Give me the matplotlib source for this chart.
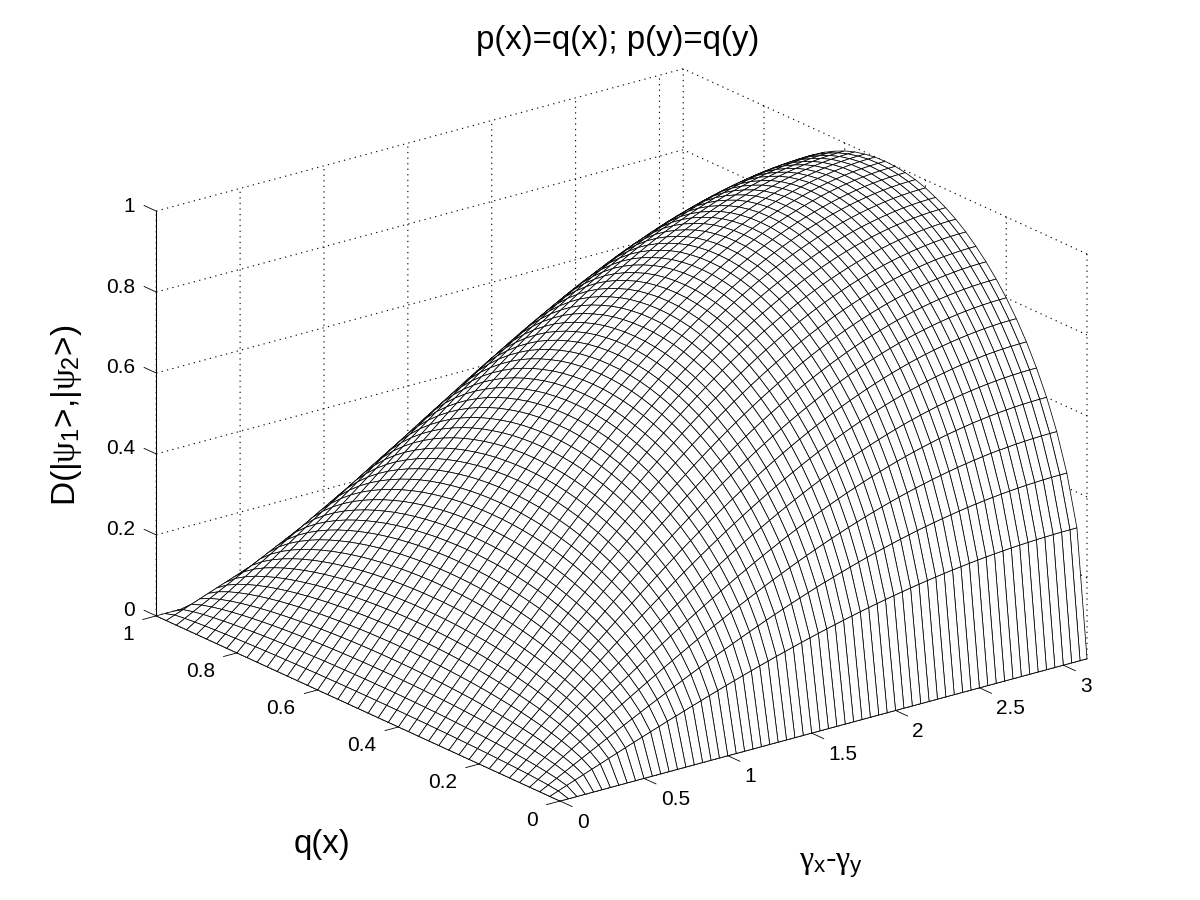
import numpy as np
import matplotlib
matplotlib.use("Agg")
import matplotlib.pyplot as plt
from mpl_toolkits.mplot3d import proj3d

gamma_values = [0.00, 0.05, 0.10, 0.15, 0.20, 0.25, 0.30, 0.35, 0.40, 0.45, 0.50, 0.55, 0.60, 0.65, 0.70, 0.75,
                0.80, 0.85, 0.90, 0.95, 1.00, 1.05, 1.10, 1.15, 1.20, 1.25, 1.30, 1.35, 1.40, 1.45, 1.50, 1.55,
                1.60, 1.65, 1.70, 1.75, 1.80, 1.85, 1.90, 1.95, 2.00, 2.05, 2.10, 2.15, 2.20, 2.25, 2.30, 2.35,
                2.40, 2.45, 2.50, 2.55, 2.60, 2.65, 2.70, 2.75, 2.80, 2.85, 2.90, 2.95, 3.00, 3.05, 3.10, 3.1416]
q_values = [0.000, 0.025, 0.050, 0.075, 0.100, 0.125, 0.150, 0.175, 0.200, 0.225, 0.250, 0.275, 0.300, 0.325,
            0.350, 0.375, 0.400, 0.425, 0.450, 0.475, 0.500, 0.525, 0.550, 0.575, 0.600, 0.625, 0.650, 0.675,
            0.700, 0.725, 0.750, 0.775, 0.800, 0.825, 0.850, 0.875, 0.900, 0.925, 0.950, 0.975, 1.000]
# Estimated relative heights: along gamma (at the q=0.5 ridge) and along q (at the gamma=pi edge).
# The picture's mesh fits a product of these two profiles, so the grid below is built from them.
gamma_profile = [0.0000, 0.0250, 0.0500, 0.0749, 0.0998, 0.1247, 0.1494, 0.1741, 0.1987, 0.2231, 0.2474, 0.2715,
                 0.2955, 0.3193, 0.3429, 0.3663, 0.3894, 0.4122, 0.4350, 0.4573, 0.4794, 0.5012, 0.5227, 0.5438,
                 0.5646, 0.5851, 0.6052, 0.6249, 0.6442, 0.6631, 0.6816, 0.6997, 0.7174, 0.7346, 0.7513, 0.7675,
                 0.7833, 0.7986, 0.8134, 0.8277, 0.8415, 0.8547, 0.8674, 0.8796, 0.8912, 0.9023, 0.9128, 0.9227,
                 0.9320, 0.9407, 0.9490, 0.9566, 0.9636, 0.9699, 0.9757, 0.9809, 0.9854, 0.9893, 0.9927, 0.9954,
                 0.9975, 0.9990, 0.9998, 1.0000]
q_profile = [0.000, 0.312, 0.436, 0.527, 0.600, 0.661, 0.714, 0.760, 0.800, 0.835, 0.866, 0.893, 0.917, 0.937,
             0.954, 0.968, 0.980, 0.989, 0.995, 0.999, 1.000, 0.999, 0.995, 0.989, 0.980, 0.968, 0.954, 0.937,
             0.917, 0.893, 0.866, 0.835, 0.800, 0.760, 0.714, 0.661, 0.600, 0.527, 0.436, 0.312, 0.000]
gamma_ticks = [0, 0.5, 1, 1.5, 2, 2.5, 3]
gamma_tick_labels = ['0', '0.5', '1', '1.5', '2', '2.5', '3']
q_ticks = [0, 0.2, 0.4, 0.6, 0.8, 1]
q_tick_labels = ['0', '0.2', '0.4', '0.6', '0.8', '1']
z_ticks = [0, 0.2, 0.4, 0.6, 0.8, 1]
z_tick_labels = ['0', '0.2', '0.4', '0.6', '0.8', '1']
title_text = 'p(x)=q(x); p(y)=q(y)'
zlabel_text = r'D(|$\psi_{\mathsf{1}}$>,|$\psi_{\mathsf{2}}$>)'
xlabel_text = r'$\gamma_{\mathsf{x}}$-$\gamma_{\mathsf{y}}$'
ylabel_text = 'q(x)'

plt.rcParams['font.family'] = ['Liberation Sans', 'DejaVu Sans']
plt.rcParams['mathtext.fontset'] = 'custom'
plt.rcParams['mathtext.rm'] = 'Liberation Serif'
plt.rcParams['mathtext.it'] = 'Liberation Serif'
plt.rcParams['mathtext.sf'] = 'Liberation Sans'
plt.rcParams['mathtext.bf'] = 'Liberation Sans:bold'
plt.rcParams['lines.scale_dashes'] = False
plt.rcParams['grid.linestyle'] = (0, (0.9, 3.1))
plt.rcParams['grid.color'] = 'black'
plt.rcParams['grid.linewidth'] = 0.8

fig = plt.figure(figsize=(12, 9), dpi=100, facecolor='white')
ax = fig.add_axes([0.1, 0.1, 0.8, 0.8], projection='3d', proj_type='ortho')
ax.view_init(elev=20.6, azim=-127.5)
ax.set_box_aspect((663, 662, 431.6))
ax.set_xlim(0, 3.1416)
ax.set_ylim(0, 1)
ax.set_zlim(0, 1)

G, Q = np.meshgrid(gamma_values, q_values)
Z = np.outer(q_profile, gamma_profile)
ax.plot_surface(G, Q, Z, rstride=1, cstride=1, color='white', edgecolor='black',
                linewidth=0.55, shade=False, antialiased=True)

ax.set_xticks(gamma_ticks, [''] * len(gamma_ticks))
ax.set_yticks(q_ticks, [''] * len(q_ticks))
ax.set_zticks(z_ticks, [''] * len(z_ticks))
for axis in (ax.xaxis, ax.yaxis, ax.zaxis):
    axis.set_pane_color((1, 1, 1, 1))
    axis.pane.set_edgecolor('white')
    axis.line.set_color('black')
    axis.line.set_linewidth(0.75)
    axis._axinfo['tick'].update(inward_factor=0.0, outward_factor=0.0)

# Tick marks and labels, placed from the tick lists through the 3D projection
M = ax.get_proj()
tick_style = dict(color='black', linewidth=0.6, zorder=10)
label_style = dict(textcoords='offset pixels', fontsize=15, va='center', annotation_clip=False)
for v, lab in zip(gamma_ticks, gamma_tick_labels):
    ax.plot([v, v], [0, -0.03], [0, 0], **tick_style)
    px, py, _ = proj3d.proj_transform(v, 0, 0, M)
    ax.annotate(lab, (px, py), xytext=(17, -21), ha='left', **label_style)
for v, lab in zip(q_ticks, q_tick_labels):
    ax.plot([0, -0.08], [v, v], [0, 0], **tick_style)
    px, py, _ = proj3d.proj_transform(0, v, 0, M)
    ax.annotate(lab, (px, py), xytext=(-22, -19), ha='right', **label_style)
for v, lab in zip(z_ticks, z_tick_labels):
    ax.plot([0, 0], [1, 1.03], [v, v], **tick_style)
    px, py, _ = proj3d.proj_transform(0, 1, v, M)
    ax.annotate(lab, (px, py), xytext=(-21, 5), ha='right', **label_style)

# Place the axes so the box corners land where they are in the reference (pixels, y up)
ax_, ay_, _ = proj3d.proj_transform(0, 0, 0, M)
cx_, cy_, _ = proj3d.proj_transform(3.1416, 0, 0, M)
x0, x1 = ax.viewLim.x0, ax.viewLim.x1
y0, y1 = ax.viewLim.y0, ax.viewLim.y1
s = (1087 - 560) / (cx_ - ax_)
W = s * (x1 - x0)
H = s * (y1 - y0)
left = 560 - s * (ax_ - x0)
bottom = (900 - 801) - s * (ay_ - y0)
ax.set_position([left / 1200, bottom / 900, W / 1200, H / 900])

ax.text2D(618 / 1200, 1 - 41 / 900, title_text, transform=fig.transFigure, ha='center', va='center', fontsize=23.8)
ax.text2D(67 / 1200, 1 - 415 / 900, zlabel_text, transform=fig.transFigure, ha='center', va='center',
          fontsize=24, rotation=90)
ax.text2D(322 / 1200, 1 - 844 / 900, ylabel_text, transform=fig.transFigure, ha='center', va='center', fontsize=23.8)
ax.text2D(831 / 1200, 1 - 865 / 900, xlabel_text, transform=fig.transFigure, ha='center', va='center', fontsize=23)

fig.savefig('out.png', dpi=100, facecolor='white')
